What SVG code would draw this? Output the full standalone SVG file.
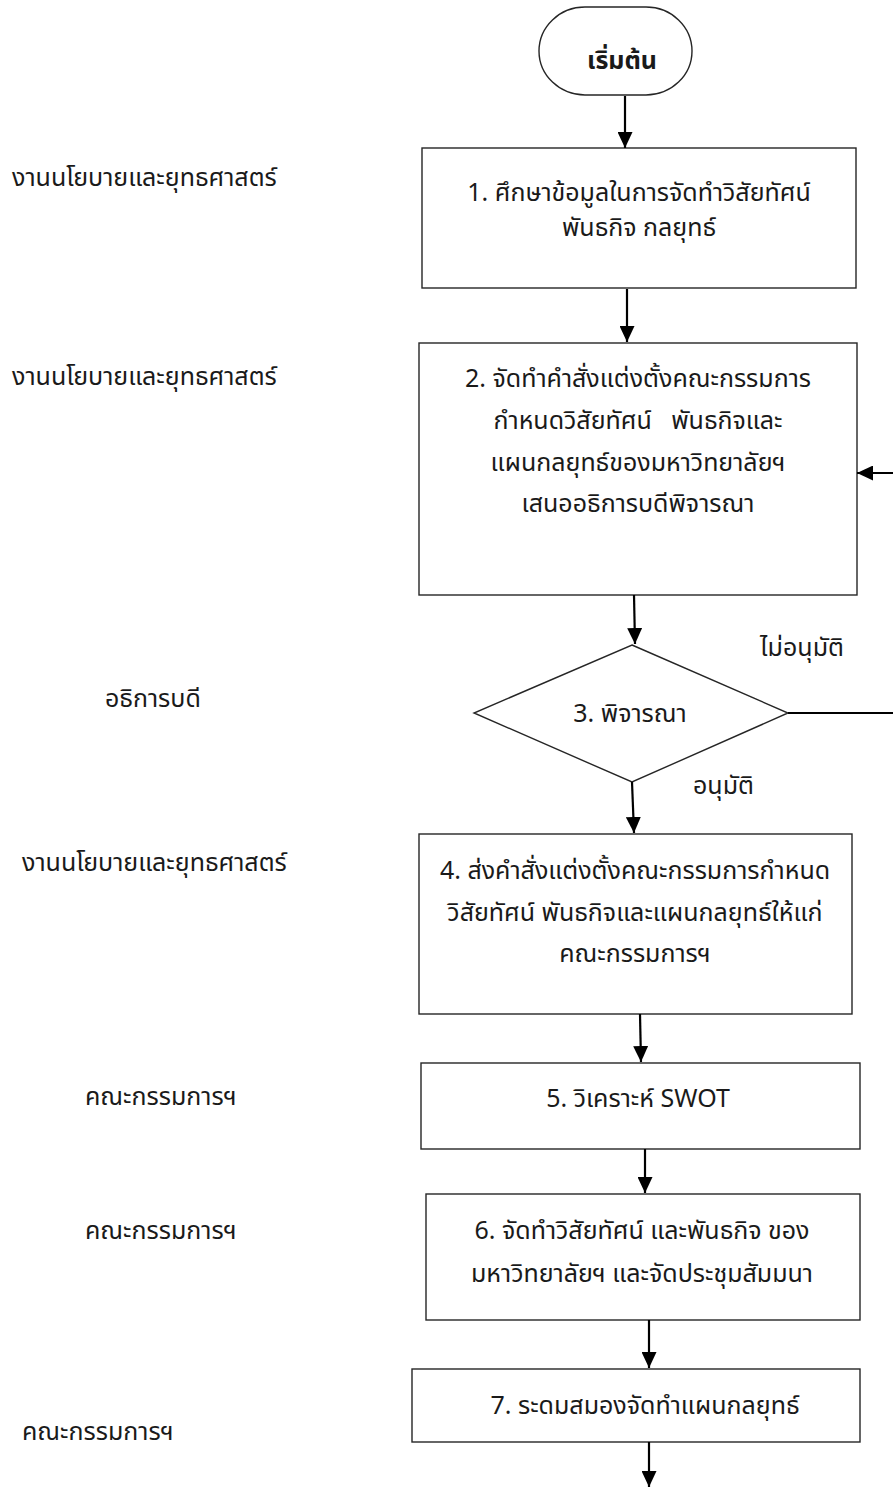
<svg xmlns="http://www.w3.org/2000/svg" width="893" height="1488" viewBox="0 0 893 1488">
  <style>
    .box { fill: #ffffff; stroke: #262626; stroke-width: 1.4; }
    .txt { font-family: "Noto Sans Thai", "Noto Sans", "DejaVu Sans", sans-serif; font-size: 25px; fill: #1a1a1a; }
    .mid { text-anchor: middle; }
    .bold { font-weight: bold; }
    .conn { fill: none; stroke: #000000; stroke-width: 2.2; marker-end: url(#arrow); }
  </style>
  <defs>
    <marker id="arrow" markerUnits="userSpaceOnUse" markerWidth="16" markerHeight="15" refX="16" refY="7.5" orient="auto">
      <path d="M0,0 L16,7.5 L0,15 Z" fill="#000000"/>
    </marker>
  </defs>
  <rect width="893" height="1488" fill="#ffffff"/>

  <!-- role labels -->
  <g id="roles">
    <text class="txt" x="12" y="186">งานนโยบายและยุทธศาสตร์</text>
    <text class="txt" x="12" y="385">งานนโยบายและยุทธศาสตร์</text>
    <text class="txt" x="105" y="707">อธิการบดี</text>
    <text class="txt" x="22" y="871">งานนโยบายและยุทธศาสตร์</text>
    <text class="txt" x="85" y="1105">คณะกรรมการฯ</text>
    <text class="txt" x="85" y="1239">คณะกรรมการฯ</text>
    <text class="txt" x="22" y="1440">คณะกรรมการฯ</text>
  </g>

  <g id="start">
    <rect class="box" x="539" y="7" width="153" height="88" rx="46" ry="44"/>
    <text class="txt mid bold" x="622" y="69">เริ่มต้น</text>
  </g>

  <g id="step1">
    <rect class="box" x="422" y="148" width="434" height="140"/>
    <text class="txt mid" x="639" y="201">1. ศึกษาข้อมูลในการจัดทำวิสัยทัศน์</text>
    <text class="txt mid" x="639" y="236">พันธกิจ กลยุทธ์</text>
  </g>

  <g id="step2">
    <rect class="box" x="419" y="343" width="438" height="252"/>
    <text class="txt mid" x="638" y="387">2. จัดทำคำสั่งแต่งตั้งคณะกรรมการ</text>
    <text class="txt mid" x="638" y="429" xml:space="preserve">กำหนดวิสัยทัศน์   พันธกิจและ</text>
    <text class="txt mid" x="638" y="471">แผนกลยุทธ์ของมหาวิทยาลัยฯ</text>
    <text class="txt mid" x="638" y="512">เสนออธิการบดีพิจารณา</text>
  </g>

  <g id="step3">
    <polygon class="box" points="632,645 788,713 632,782 474,713"/>
    <text class="txt mid" x="630" y="722">3. พิจารณา</text>
  </g>

  <g id="step4">
    <rect class="box" x="419" y="834" width="433" height="180"/>
    <text class="txt mid" x="635" y="879">4. ส่งคำสั่งแต่งตั้งคณะกรรมการกำหนด</text>
    <text class="txt mid" x="635" y="921">วิสัยทัศน์ พันธกิจและแผนกลยุทธ์ให้แก่</text>
    <text class="txt mid" x="635" y="962">คณะกรรมการฯ</text>
  </g>

  <g id="step5">
    <rect class="box" x="421" y="1063" width="439" height="86"/>
    <text class="txt mid" x="638" y="1107">5. วิเคราะห์ SWOT</text>
  </g>

  <g id="step6">
    <rect class="box" x="426" y="1194" width="434" height="126"/>
    <text class="txt mid" x="642" y="1239">6. จัดทำวิสัยทัศน์ และพันธกิจ ของ</text>
    <text class="txt mid" x="642" y="1282">มหาวิทยาลัยฯ และจัดประชุมสัมมนา</text>
  </g>

  <g id="step7">
    <rect class="box" x="412" y="1369" width="448" height="73"/>
    <text class="txt mid" x="645" y="1414">7. ระดมสมองจัดทำแผนกลยุทธ์</text>
  </g>

  <g id="connectors">
    <line class="conn" x1="625" y1="96" x2="625" y2="148"/>
    <line class="conn" x1="627" y1="289" x2="627" y2="342"/>
    <line class="conn" x1="634" y1="595" x2="635" y2="644"/>
    <polyline class="conn" points="788,713 897,713 897,473 857,473"/>
    <line class="conn" x1="632" y1="782" x2="634" y2="833"/>
    <line class="conn" x1="640" y1="1014" x2="641" y2="1062"/>
    <line class="conn" x1="645" y1="1149" x2="645" y2="1193"/>
    <line class="conn" x1="649" y1="1320" x2="649" y2="1368"/>
    <line class="conn" x1="649" y1="1442" x2="649" y2="1487"/>
    <text class="txt" x="760" y="656">ไม่อนุมัติ</text>
    <text class="txt" x="693" y="794">อนุมัติ</text>
  </g>
</svg>
